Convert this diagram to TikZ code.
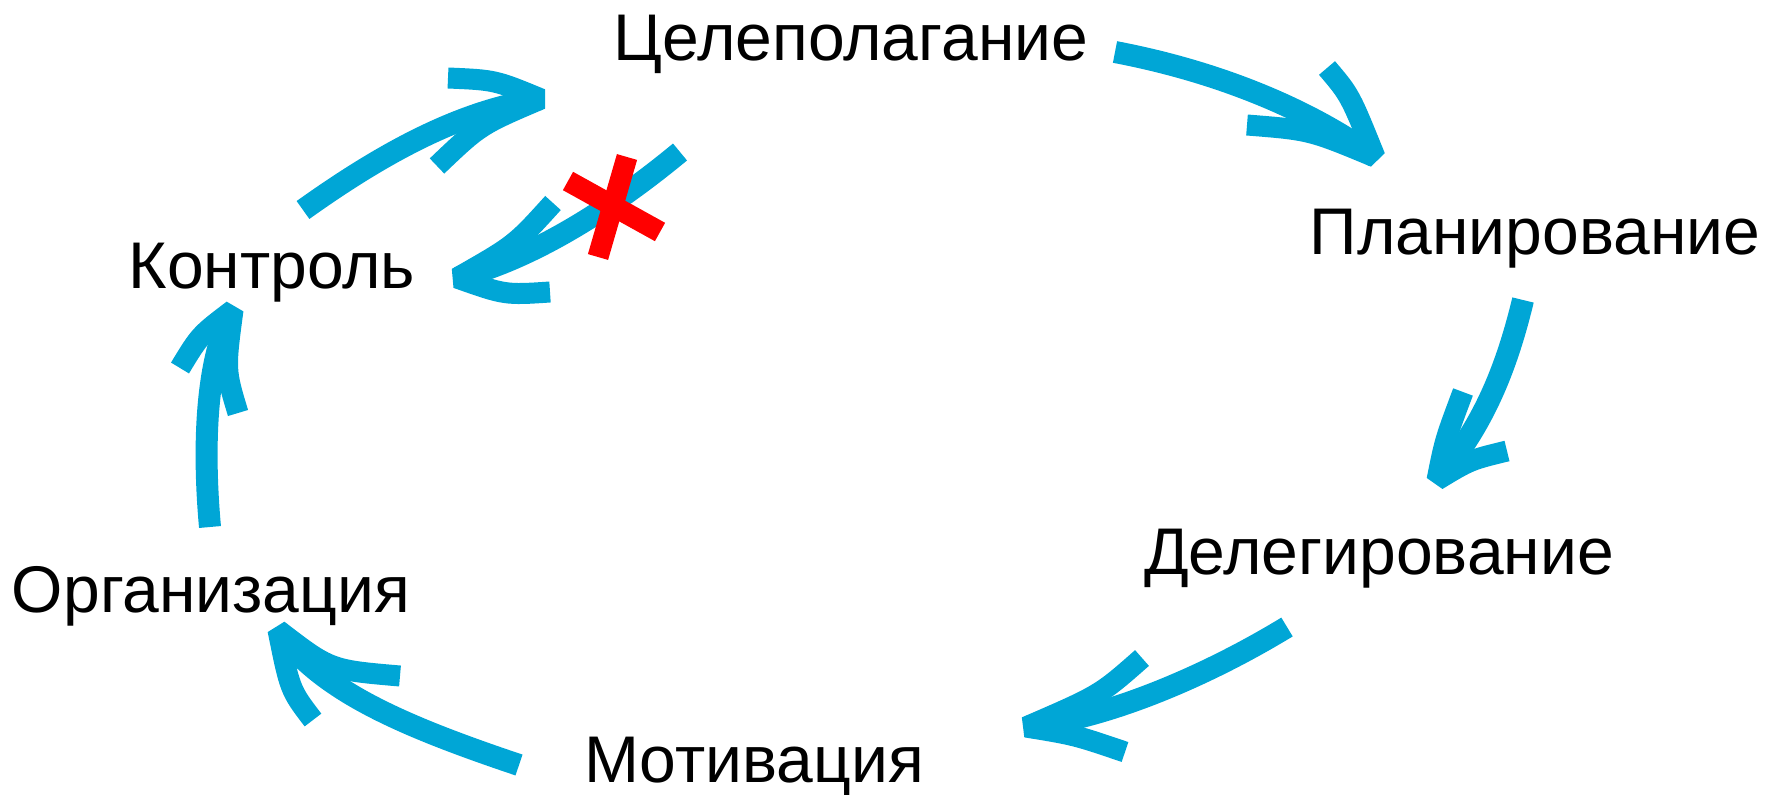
\documentclass[tikz,border=0pt]{standalone}
\usepackage{fontspec}
\setmainfont{Liberation Sans}
\definecolor{brushblue}{RGB}{0,166,214}
\definecolor{crossred}{RGB}{255,0,0}
\tikzset{
  lbl/.style={font=\fontsize{66}{66}\selectfont, anchor=base, inner sep=0pt},
  shaft/.style={draw=brushblue, line width=22pt, line cap=butt},
  barbs/.style={draw=brushblue, line width=21pt, line cap=butt, line join=miter, miter limit=2},
  crossbar/.style={draw=crossred, line width=21pt, line cap=butt}
}
\begin{document}
\begin{tikzpicture}[x=1pt,y=-1pt]
\useasboundingbox (0,0) rectangle (1783,795);
% labels
\node[lbl] (goal) at (851,60) {Целеполагание};
\node[lbl] (plan) at (1535,254) {Планирование};
\node[lbl] (deleg) at (1379,574) {Делегирование};
\node[lbl] (motiv) at (754,782) {Мотивация};
\node[lbl] (org) at (211,612) {Организация};
\node[lbl] (ctrl) at (272,288) {Контроль};

% arrow 1: goal -> plan
\coordinate (a1s) at (1115,52);
\coordinate (a1t) at (1375,157);
\coordinate (a1b1) at (1327,68);
\coordinate (a1b2) at (1247,125);
\draw[shaft] (a1s) .. controls (1220,72) and (1310,110) .. (a1t);
\draw[barbs] (a1b1) .. controls (1350,95) .. (a1t) .. controls (1310,130) .. (a1b2);

% arrow 2: plan -> deleg
\coordinate (a2s) at (1523,300);
\coordinate (a2t) at (1437,480);
\coordinate (a2b1) at (1463,392);
\coordinate (a2b2) at (1507,451);
\draw[shaft] (a2s) .. controls (1505,375) and (1480,430) .. (a2t);
\draw[barbs] (a2b1) .. controls (1445,440) .. (a2t) .. controls (1470,460) .. (a2b2);

% arrow 3: deleg -> motiv
\coordinate (a3s) at (1287,627);
\coordinate (a3t) at (1026,727);
\coordinate (a3b1) at (1142,658);
\coordinate (a3b2) at (1125,752);
\draw[shaft] (a3s) .. controls (1200,680) and (1100,720) .. (a3t);
\draw[barbs] (a3b1) .. controls (1100,695) .. (a3t) .. controls (1075,735) .. (a3b2);

% arrow 4: motiv -> org
\coordinate (a4s) at (519,765);
\coordinate (a4t) at (278,630);
\coordinate (a4b1) at (400,676);
\coordinate (a4b2) at (313,720);
\draw[shaft] (a4s) .. controls (400,725) and (320,690) .. (a4t);
\draw[barbs] (a4b1) .. controls (330,670) .. (a4t) .. controls (290,690) .. (a4b2);

% arrow 5: org -> ctrl
\coordinate (a5s) at (210,527);
\coordinate (a5t) at (233,310);
\coordinate (a5b1) at (180,368);
\coordinate (a5b2) at (238,413);
\draw[shaft] (a5s) .. controls (203,450) and (205,360) .. (a5t);
\draw[barbs] (a5b1) .. controls (200,335) .. (a5t) .. controls (225,370) .. (a5b2);

% arrow 6: ctrl -> goal
\coordinate (a6s) at (303,210);
\coordinate (a6t) at (541,99);
\coordinate (a6b1) at (448,78);
\coordinate (a6b2) at (437,166);
\draw[shaft] (a6s) .. controls (380,155) and (460,110) .. (a6t);
\draw[barbs] (a6b1) .. controls (495,80) .. (a6t) .. controls (480,125) .. (a6b2);

% arrow 7: goal -> ctrl (crossed out)
\coordinate (a7s) at (680,152);
\coordinate (a7t) at (457,278);
\coordinate (a7b1) at (553,203);
\coordinate (a7b2) at (550,292);
\draw[shaft] (a7s) .. controls (610,210) and (530,260) .. (a7t);
\draw[barbs] (a7b1) .. controls (515,245) .. (a7t) .. controls (505,295) .. (a7b2);

% red cross
\coordinate (x1a) at (568,181);
\coordinate (x1b) at (660,232);
\coordinate (x2a) at (627,157);
\coordinate (x2b) at (598,257);
\draw[crossbar] (x1a) -- (x1b);
\draw[crossbar] (x2a) -- (x2b);
\end{tikzpicture}
\end{document}
